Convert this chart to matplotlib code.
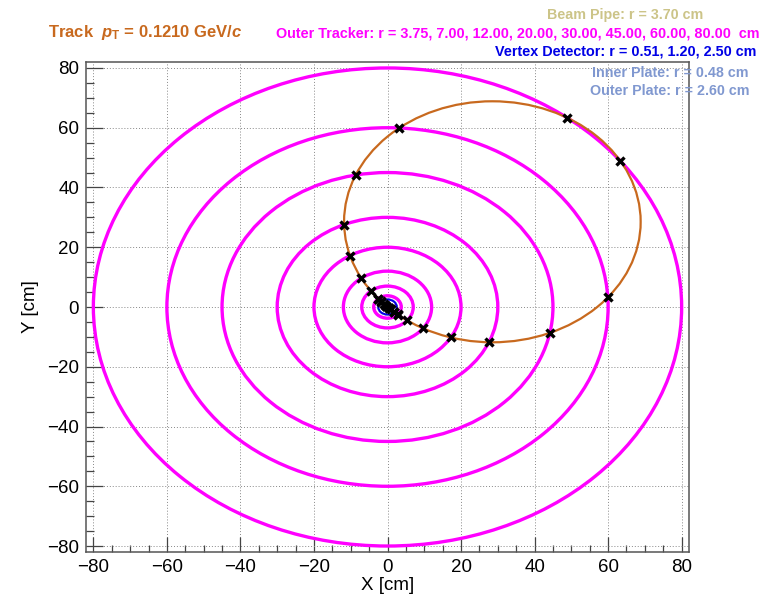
"""
Transverse view of the detector layers with one helix track (B = 1 T).
Output: out.png
"""

import numpy as np
import matplotlib
matplotlib.use('Agg')
import matplotlib.pyplot as plt
from matplotlib.patches import Circle
from matplotlib.ticker import MultipleLocator

plt.rcParams['font.family'] = ['Liberation Sans', 'DejaVu Sans']
plt.rcParams['mathtext.fontset'] = 'custom'
plt.rcParams['mathtext.rm'] = 'Liberation Sans:bold'
plt.rcParams['mathtext.it'] = 'Liberation Sans:italic:bold'
plt.rcParams['mathtext.bf'] = 'Liberation Sans:bold'

# ── detector geometry (cm) ──────────────────────────────────────────────────
outer_tracker_r = [3.75, 7.00, 12.00, 20.00, 30.00, 45.00, 60.00, 80.00]
vertex_r        = [0.51, 1.20, 2.50]
beam_pipe_r     = [3.70]
inner_plate_r   = [0.48]
outer_plate_r   = [2.60]

# ── track ───────────────────────────────────────────────────────────────────
track_pt  = 0.1210     # GeV/c
bfield    = 1.0        # T
track_phi = 45.0       # direction of the circle centre, deg

# ── colours ─────────────────────────────────────────────────────────────────
C_OT    = '#FF00FF'
C_VTX   = '#0000E6'
C_PIPE  = '#CCC488'
C_PLATE = '#8098D0'
C_TRACK = '#C8691E'

W, H = 760, 596
fig = plt.figure(figsize=(W / 100, H / 100), dpi=100)
ax = fig.add_axes([86 / W, 44 / H, 603 / W, 490 / H])
ax.set_xlim(-82, 82)
ax.set_ylim(-82, 82)


def rings(radii, color, lw, z):
    for r in radii:
        ax.add_patch(Circle((0, 0), r, fill=False, ec=color, lw=lw, zorder=z))


rings(inner_plate_r, C_PLATE, 1.4, 3)
rings(outer_plate_r, C_PLATE, 1.4, 3)
rings(beam_pipe_r, C_PIPE, 1.6, 3)
rings(vertex_r, C_VTX, 1.4, 4)
rings(outer_tracker_r, C_OT, 2.4, 5)

# track circle: radius R = pT / (0.3 B), passes through the origin
R = track_pt / (0.3 * bfield) * 100.0
phi = np.radians(track_phi)
cx, cy = R * np.cos(phi), R * np.sin(phi)
ax.add_patch(Circle((cx, cy), R, fill=False, ec=C_TRACK, lw=1.6, zorder=6))

# crossing points with every layer
all_r = outer_tracker_r + vertex_r + beam_pipe_r + inner_plate_r + outer_plate_r
hx, hy = [], []
for r in all_r:
    if r < 2 * R:
        d = np.arccos(r / (2 * R))
        for a in (phi + d, phi - d):
            hx.append(r * np.cos(a))
            hy.append(r * np.sin(a))
ax.plot(hx, hy, ls='none', marker='x', ms=5.5, mew=2.4, color='black', zorder=7)

# ── axes style ──────────────────────────────────────────────────────────────
for ax_ in (ax.xaxis, ax.yaxis):
    ax_.set_major_locator(MultipleLocator(20))
    ax_.set_minor_locator(MultipleLocator(5))
ax.grid(True, which='major', ls=(0, (1, 2)), color='#888888', lw=0.7, zorder=0)
ax.set_axisbelow(True)
ax.tick_params(which='both', direction='in', top=False, right=False,
               labelsize=13.5, color='#444444', width=0.9)
ax.tick_params(axis='y', which='major', length=12, pad=5)
ax.tick_params(axis='y', which='minor', length=6)
ax.tick_params(axis='x', which='major', length=11, pad=5)
ax.tick_params(axis='x', which='minor', length=5)
for s in ax.spines.values():
    s.set_color('#555555')
    s.set_linewidth(1.1)
ax.set_xlabel('X [cm]', fontsize=13.5, labelpad=1)
ax.set_ylabel('Y [cm]', fontsize=13.5, labelpad=6)


def ftext(x, y, s, color, size, ha='right'):
    fig.text(x / W, 1 - y / H, s, color=color, fontsize=size,
             fontweight='bold', ha=ha, va='baseline', zorder=10)


ftext(48, 37, r'Track  $p_{\mathrm{T}}$ = 0.1210 GeV/$c$', C_TRACK, 12, ha='left')
ftext(703, 19, 'Beam Pipe: r = 3.70 cm', C_PIPE, 10.3)
ftext(759, 38, 'Outer Tracker: r = ' + ', '.join(f'{r:.2f}' for r in outer_tracker_r) + '  cm',
      C_OT, 10.4)
ftext(756, 56, 'Vertex Detector: r = ' + ', '.join(f'{r:.2f}' for r in vertex_r) + ' cm',
      C_VTX, 10.4)
ftext(748, 77, f'Inner Plate: r = {inner_plate_r[0]:.2f} cm', C_PLATE, 10.3)
ftext(750, 95, f'Outer Plate: r = {outer_plate_r[0]:.2f} cm', C_PLATE, 10.3)

fig.savefig('out.png', dpi=100, facecolor='white')
